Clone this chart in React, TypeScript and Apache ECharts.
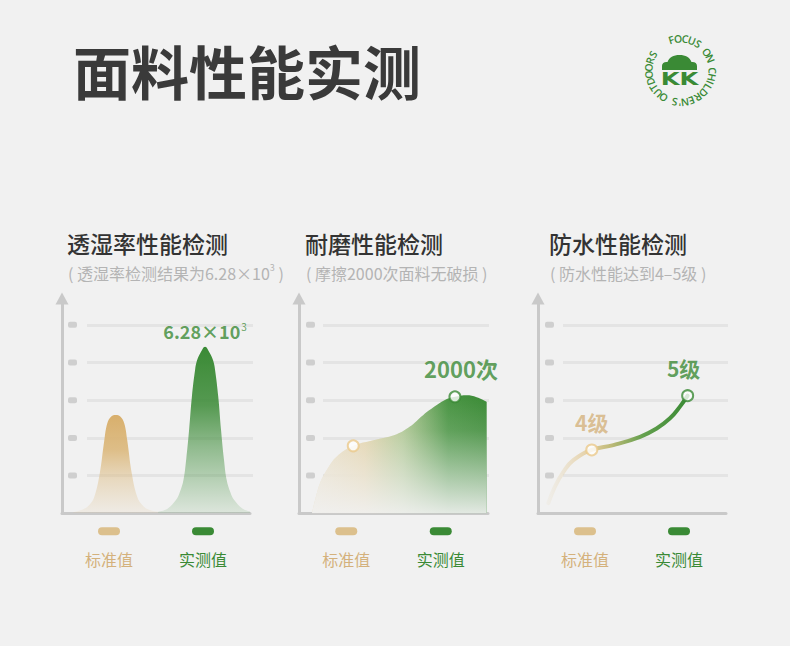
import React, { useEffect, useRef } from 'react';
import * as echarts from 'echarts';

// ---------- data ----------
const categories = ['标准值', '实测值'];
const gridLevels = [1, 2, 3, 4, 5];

// Panel 1: 透湿率 (bell curves)
const moistureStdX = [0.6, 1.1, 1.45, 1.72, 2.01, 2.25, 2.41, 2.62, 2.86, 3.1, 3.31, 3.47, 3.71, 4.0, 4.27, 4.6, 5.11];
const moistureStdY = [0.03, 0.1, 0.22, 0.44, 1.06, 1.94, 2.39, 2.57, 2.61, 2.57, 2.39, 1.94, 1.06, 0.44, 0.22, 0.1, 0.04];
const moistureActX = [5.11, 5.61, 6.06, 6.26, 6.46, 6.61, 6.76, 6.91, 7.08, 7.18, 7.36, 7.61, 7.86, 8.04, 8.14, 8.31, 8.46, 8.61, 8.76, 8.96, 9.16, 9.61, 10.0];
const moistureActY = [0.04, 0.12, 0.35, 0.55, 0.88, 1.45, 2.21, 3.1, 3.81, 4.05, 4.25, 4.42, 4.25, 4.05, 3.81, 3.1, 2.21, 1.45, 0.88, 0.55, 0.35, 0.12, 0.05];
const moisturePeakIndex = 11;
const moisturePeakText = '6.28×10';
const moisturePeakSup = '3';

// Panel 2: 耐磨 (area)
const abrasionX = [0.69, 0.85, 1.11, 1.47, 1.99, 2.87, 4.11, 5.17, 5.87, 6.58, 7.29, 7.82, 8.25, 8.87, 9.4, 9.93];
const abrasionY = [0.02, 0.35, 0.8, 1.15, 1.5, 1.79, 1.96, 2.1, 2.3, 2.61, 2.87, 3.03, 3.09, 3.13, 3.08, 2.96];
const abrasionStdIndex = 5;
const abrasionActIndex = 12;
const abrasionActText = '2000次';

// Panel 3: 防水 (line)
const waterX = [0.55, 0.9, 1.35, 1.88, 2.86, 4.01, 5.43, 6.31, 7.02, 7.55, 7.96];
const waterY = [0.27, 0.71, 1.1, 1.41, 1.68, 1.81, 2.03, 2.25, 2.52, 2.83, 3.12];
const waterStdIndex = 4;
const waterActIndex = 10;
const waterStdText = '4级';
const waterActText = '5级';

const mainTitle = '面料性能实测';
const panelTitles = ['透湿率性能检测', '耐磨性能检测', '防水性能检测'];
const panelSubtitles = ['', '( 摩擦2000次面料无破损 )', '( 防水性能达到4–5级 )'];
const ringText = "FOCUS ON CHILDREN'S OUTDOORS";

// ---------- styles ----------
const BG = '#f1f1f1';
const GREEN = '#3a8a35';
const TAN_PILL = '#dcc08d';
const TAN_TEXT = '#d4b17c';
const TAN_MARK = '#ebc98b';
const AXIS = '#c9c9c9';
const GRIDLINE = '#e4e4e4';
const TICK = '#cfcfcf';
const CJK = '"Noto Sans CJK SC", sans-serif';

const Y_MAX = 5.7;
const PLOT_BOTTOM = 513.3;
const UNIT = 37.7;
const TOP = PLOT_BOTTOM - Y_MAX * UNIT;
const PLOT_H = Y_MAX * UNIT;

const panels = [
  { plotL: 62, plotR: 250, gridL: 87, gridR: 253, tickMargin: 10, textX: 67 },
  { plotL: 299, plotR: 488, gridL: 323, gridR: 489, tickMargin: 8, textX: 305 },
  { plotL: 538, plotR: 726, gridL: 563, gridR: 728, tickMargin: 9, textX: 549 },
];

const CLOUD_D = 'M0 15 L0 11 C0 8 2.5 6.5 5.5 7 C7 2.5 11.5 0 17.5 0 C23.5 0 28 2.5 29.5 7 C32.5 6.5 35 8 35 11 L35 15 Z';

const zip = (xs: number[], ys: number[]) => xs.map((x, i) => [x, ys[i]]);
const LG = (x: number, y: number, x2: number, y2: number, stops: [number, string][]) =>
  new echarts.graphic.LinearGradient(x, y, x2, y2, stops.map(([offset, color]) => ({ offset, color })));

function buildOption() {
  const grid: any[] = [];
  const xAxis: any[] = [];
  const yAxis: any[] = [];

  panels.forEach((p, i) => {
    grid.push({ left: p.plotL, width: p.plotR - p.plotL, top: TOP, height: PLOT_H, outerBoundsMode: 'none' });
    grid.push({ left: p.gridL, width: p.gridR - p.gridL, top: TOP, height: PLOT_H, outerBoundsMode: 'none' });

    xAxis.push({
      type: 'value', gridIndex: 2 * i, min: 0, max: 10, position: 'bottom',
      axisLine: { show: true, onZero: false, lineStyle: { color: AXIS, width: 3 } },
      axisTick: { show: false }, axisLabel: { show: false }, splitLine: { show: false },
    });
    xAxis.push({
      type: 'category', gridIndex: 2 * i, data: categories, position: 'bottom',
      axisLine: { show: false }, axisTick: { show: false }, splitLine: { show: false },
      axisLabel: {
        show: true, interval: 0, margin: 14,
        formatter: (v: string, idx: number) => (idx === 0 ? `{pa| }\n{na|${v}}` : `{pb| }\n{nb|${v}}`),
        rich: {
          pa: { width: 22, height: 8, lineHeight: 8, fontSize: 1, backgroundColor: TAN_PILL, borderRadius: 4 },
          pb: { width: 22, height: 8, lineHeight: 8, fontSize: 1, backgroundColor: GREEN, borderRadius: 4 },
          na: { fontSize: 16, lineHeight: 47, color: TAN_TEXT, fontFamily: CJK },
          nb: { fontSize: 16, lineHeight: 47, color: GREEN, fontFamily: CJK },
        },
      },
    });
    xAxis.push({ type: 'value', gridIndex: 2 * i + 1, min: 0, max: 1, show: false });

    yAxis.push({
      type: 'value', gridIndex: 2 * i, min: 0, max: Y_MAX, interval: 1,
      axisLine: { show: true, onZero: false, symbol: ['none', 'triangle'], symbolSize: [13, 12], lineStyle: { color: AXIS, width: 3 } },
      axisTick: { show: false }, axisLabel: { show: false }, splitLine: { show: false },
    });
    yAxis.push({
      type: 'value', gridIndex: 2 * i + 1, min: 0, max: Y_MAX, interval: 1,
      axisLine: { show: false }, axisTick: { show: false },
      splitLine: { show: true, showMinLine: false, showMaxLine: false, lineStyle: { color: GRIDLINE, width: 3 } },
      axisLabel: {
        show: true, margin: p.tickMargin,
        formatter: (v: number) => (gridLevels.includes(v) ? '{t| }' : ''),
        rich: { t: { width: 9, height: 6, fontSize: 1, backgroundColor: TICK, borderRadius: 2 } },
      },
    });
  });

  const greenLabel = (text: string, extra: any = {}) => ({
    show: true, position: 'top', distance: 10, formatter: text,
    color: GREEN, fontSize: 22, fontWeight: 'bold', fontFamily: CJK, ...extra,
  });

  const series: any[] = [
    // Panel 1
    {
      type: 'line', xAxisIndex: 0, yAxisIndex: 0, data: zip(moistureStdX, moistureStdY), smooth: 0.4,
      symbol: 'none', silent: true, lineStyle: { width: 0 },
      areaStyle: { opacity: 1, color: LG(0, 0, 0, 1, [[0, 'rgba(216,175,108,1)'], [0.35, 'rgba(218,180,116,0.85)'], [0.65, 'rgba(220,186,128,0.45)'], [1, 'rgba(222,192,140,0.12)']]) },
    },
    {
      type: 'line', xAxisIndex: 0, yAxisIndex: 0, data: zip(moistureActX, moistureActY), smooth: 0.4,
      symbol: 'none', silent: true, lineStyle: { width: 0 },
      areaStyle: { opacity: 1, color: LG(0, 0, 0, 1, [[0, 'rgba(58,138,53,1)'], [0.35, 'rgba(58,138,53,0.85)'], [0.6, 'rgba(64,142,60,0.55)'], [1, 'rgba(70,146,66,0.12)']]) },
    },
    {
      type: 'scatter', xAxisIndex: 0, yAxisIndex: 0, silent: true, symbolSize: 1, z: 5,
      itemStyle: { color: 'rgba(0,0,0,0)' },
      data: [[moistureActX[moisturePeakIndex], moistureActY[moisturePeakIndex]]],
      label: {
        show: true, position: 'top', distance: 5,
        formatter: `{a|${moisturePeakText}}{s|${moisturePeakSup}}`,
        rich: {
          a: { fontSize: 18, color: GREEN, fontWeight: 'bold', fontFamily: CJK, lineHeight: 20 },
          s: { fontSize: 10, color: GREEN, fontFamily: CJK, verticalAlign: 'top', lineHeight: 10, padding: [0, 0, 0, 1] },
        },
      },
    },
    // Panel 2
    {
      type: 'line', xAxisIndex: 3, yAxisIndex: 2, data: zip(abrasionX, abrasionY), smooth: 0.4,
      symbol: 'none', silent: true, lineStyle: { width: 0 },
      areaStyle: {
        opacity: 1,
        color: LG(0, 0, 1, 0, [[0, 'rgba(228,212,175,0.6)'], [0.3, 'rgba(226,208,164,0.95)'], [0.52, 'rgba(170,196,140,0.95)'], [0.78, 'rgba(72,148,66,1)'], [1, 'rgba(58,138,53,1)']]),
      },
    },
    {
      type: 'line', xAxisIndex: 3, yAxisIndex: 2, data: zip(abrasionX, abrasionY), smooth: 0.4,
      symbol: 'none', silent: true, lineStyle: { width: 0 },
      areaStyle: { opacity: 1, color: LG(0, 0, 0, 1, [[0, 'rgba(241,241,241,0)'], [0.3, 'rgba(241,241,241,0.15)'], [1, 'rgba(241,241,241,0.92)']]) },
    },
    {
      type: 'scatter', xAxisIndex: 3, yAxisIndex: 2, silent: true, symbolSize: 11, z: 5,
      data: [
        { value: [abrasionX[abrasionStdIndex], abrasionY[abrasionStdIndex]], itemStyle: { color: '#fff', borderColor: TAN_MARK, borderWidth: 2 } },
        {
          value: [abrasionX[abrasionActIndex], abrasionY[abrasionActIndex]], itemStyle: { color: '#fff', borderColor: GREEN, borderWidth: 2 },
          label: greenLabel(abrasionActText, { offset: [6, 0], distance: 11 }),
        },
      ],
    },
    // Panel 3
    {
      type: 'line', xAxisIndex: 6, yAxisIndex: 4, data: zip(waterX, waterY), smooth: 0.45,
      symbol: 'none', silent: true,
      lineStyle: {
        width: 4, cap: 'round',
        color: LG(0, 0, 1, 0, [[0, 'rgba(232,220,195,0.2)'], [0.3, 'rgba(228,206,160,1)'], [0.45, 'rgba(190,186,120,1)'], [0.68, 'rgba(100,160,78,1)'], [1, 'rgba(58,138,53,1)']]),
      },
    },
    {
      type: 'scatter', xAxisIndex: 6, yAxisIndex: 4, silent: true, symbolSize: 11, z: 5,
      data: [
        {
          value: [waterX[waterStdIndex], waterY[waterStdIndex]], itemStyle: { color: '#fff', borderColor: TAN_MARK, borderWidth: 2 },
          label: greenLabel(waterStdText, { color: TAN_TEXT, fontSize: 21, distance: 11 }),
        },
        {
          value: [waterX[waterActIndex], waterY[waterActIndex]], itemStyle: { color: '#fff', borderColor: GREEN, borderWidth: 2 },
          label: greenLabel(waterActText, { fontSize: 21, distance: 11, offset: [-4, 0] }),
        },
      ],
    },
  ];

  // ---------- graphic texts & logo ----------
  const elements: any[] = [];
  elements.push({
    type: 'text', x: 73, y: 70, z: 100,
    style: { text: mainTitle, fill: '#3a3a3a', font: `bold 58px ${CJK}`, textAlign: 'left', textVerticalAlign: 'middle' },
  });
  panels.forEach((p, i) => {
    elements.push({
      type: 'text', x: p.textX, y: 243, z: 100,
      style: { text: panelTitles[i], fill: '#333333', font: `500 23px ${CJK}`, textAlign: 'left', textVerticalAlign: 'middle' },
    });
    if (i === 0) {
      elements.push({
        type: 'text', x: p.textX + 1, y: 273, z: 100,
        style: {
          text: `{a|( 透湿率检测结果为${moisturePeakText}}{s|${moisturePeakSup}}{a| )}`,
          textAlign: 'left', textVerticalAlign: 'middle',
          rich: {
            a: { fontSize: 16, fill: '#b4b4b4', fontFamily: CJK, lineHeight: 20 },
            s: { fontSize: 9, fill: '#b4b4b4', fontFamily: CJK, verticalAlign: 'top', lineHeight: 9 },
          },
        },
      });
    } else {
      elements.push({
        type: 'text', x: p.textX + 1, y: 273, z: 100,
        style: { text: panelSubtitles[i], fill: '#b4b4b4', font: `16px ${CJK}`, textAlign: 'left', textVerticalAlign: 'middle' },
      });
    }
  });

  // logo
  const cx = 680.5, cy = 70.5, r = 32;
  const cw = (c: string) => (c === ' ' ? 0.75 : c === 'I' ? 0.5 : c === "'" ? 0.45 : 1);
  let acc = 0;
  for (let i = 0; i < ringText.length; i++) {
    if (i > 0) acc += (cw(ringText[i - 1]) + cw(ringText[i])) / 2;
    const a = ((-17 + acc * 12.6) * Math.PI) / 180;
    if (ringText[i] === ' ') continue;
    elements.push({
      type: 'text', x: cx + r * Math.sin(a), y: cy - r * Math.cos(a), rotation: -a, z: 100,
      style: { text: ringText[i], fill: GREEN, font: '600 10.5px "Open Sans", sans-serif', textAlign: 'center', textVerticalAlign: 'middle' },
    });
  }
  elements.push({ type: 'logoCloud', x: 662, y: 55, z: 100, style: { fill: GREEN } });
  elements.push({
    type: 'text', x: 679.5, y: 79, scaleX: 1.35, z: 100,
    style: { text: 'KK', fill: GREEN, font: 'bold 18px "DejaVu Sans", sans-serif', textAlign: 'center', textVerticalAlign: 'middle' },
  });

  return {
    animation: false,
    backgroundColor: BG,
    grid, xAxis, yAxis, series,
    graphic: { elements },
  };
}

export default function App() {
  const ref = useRef<HTMLDivElement>(null);
  useEffect(() => {
    if (!ref.current) return;
    echarts.graphic.registerShape('logoCloud', echarts.graphic.extendPath(CLOUD_D, {}));
    const chart = echarts.init(ref.current, null, { renderer: 'svg' });
    chart.setOption(buildOption() as any);
    return () => chart.dispose();
  }, []);
  return <div ref={ref} style={{ position: 'fixed', left: 0, top: 0, width: 790, height: 646 }} />;
}
